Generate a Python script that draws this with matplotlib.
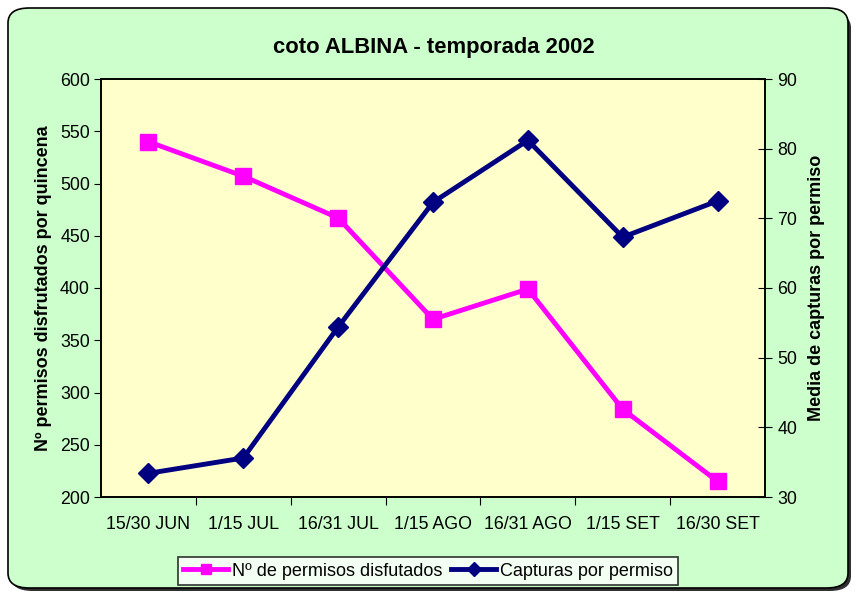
import matplotlib
matplotlib.use('Agg')
import matplotlib.pyplot as plt
from matplotlib.patches import FancyBboxPatch

plt.rcParams['font.family'] = ['Liberation Sans', 'DejaVu Sans']

categories = ['15/30 JUN', '1/15 JUL', '16/31 JUL', '1/15 AGO', '16/31 AGO', '1/15 SET', '16/30 SET']
permisos = [540, 507, 467, 370, 399, 284, 215]
capturas = [33.4, 35.6, 54.4, 72.3, 81.2, 67.3, 72.5]
left_ticks = [200, 250, 300, 350, 400, 450, 500, 550, 600]
right_ticks = [30, 40, 50, 60, 70, 80, 90]

pink = '#FF00FF'
navy = '#000080'

fig = plt.figure(figsize=(8.56, 5.95), dpi=100)
fig.patch.set_facecolor('white')

# rounded chart area with shadow
shadow = FancyBboxPatch((11 / 856, 4 / 595), 840 / 856, 578 / 595,
                        boxstyle='round,pad=0,rounding_size=0.025',
                        transform=fig.transFigure, facecolor='#303030',
                        edgecolor='none', zorder=-2)
frame = FancyBboxPatch((8 / 856, 7 / 595), 840 / 856, 580 / 595,
                       boxstyle='round,pad=0,rounding_size=0.025',
                       transform=fig.transFigure, facecolor='#CCFFCC',
                       edgecolor='black', linewidth=1.2, zorder=-1)
fig.patches.extend([shadow, frame])

ax = fig.add_axes([101 / 856, 1 - 497 / 595, 664 / 856, 418 / 595])
ax.set_facecolor('#FFFFCC')
x = list(range(len(categories)))
l1, = ax.plot(x, permisos, color=pink, lw=3.5, marker='s', markersize=11,
              label='Nº de permisos disfutados', zorder=3)
ax.set_xlim(-0.5, len(categories) - 0.5)
ax.set_ylim(200, 600)
ax.set_yticks(left_ticks)
ax.set_xticks([i + 0.5 for i in range(len(categories) - 1)])
ax.set_xticklabels([])
ax.set_xticks(x, minor=True)
ax.set_xticklabels(categories, minor=True, fontsize=12.8)
ax.tick_params(axis='x', which='minor', length=0, pad=14)
ax.tick_params(axis='x', which='major', direction='out', length=6)
ax.tick_params(axis='y', direction='out', length=5, labelsize=12.8, pad=3)
ax.set_ylabel('Nº permisos disfrutados por quincena', fontsize=13, fontweight='bold', labelpad=6)

ax2 = ax.twinx()
l2, = ax2.plot(x, capturas, color=navy, lw=3.5, marker='D', markersize=10,
               label='Capturas por permiso', zorder=3)
ax2.set_ylim(30, 90)
ax2.set_yticks(right_ticks)
ax2.tick_params(axis='y', direction='inout', length=10, labelsize=12.8, pad=4)
ax2.set_ylabel('Media de capturas por permiso', fontsize=13, fontweight='bold', labelpad=8)

for a in (ax, ax2):
    for s in a.spines.values():
        s.set_linewidth(1.2)

fig.text(434 / 856, 1 - 47 / 595, 'coto ALBINA - temporada 2002',
         ha='center', va='center', fontsize=15.8, fontweight='bold')

leg = fig.legend([l1, l2], ['Nº de permisos disfutados', 'Capturas por permiso'],
                 loc='center', bbox_to_anchor=(428 / 856, 1 - 571 / 595), ncol=2,
                 fontsize=13, frameon=True, fancybox=False, edgecolor='black',
                 handlelength=2.5, handletextpad=0.2, columnspacing=0.5,
                 borderpad=0.3, markerscale=0.7)
leg.get_frame().set_linewidth(1.2)
leg.get_frame().set_facecolor('white')

fig.savefig('out.png', dpi=100)
